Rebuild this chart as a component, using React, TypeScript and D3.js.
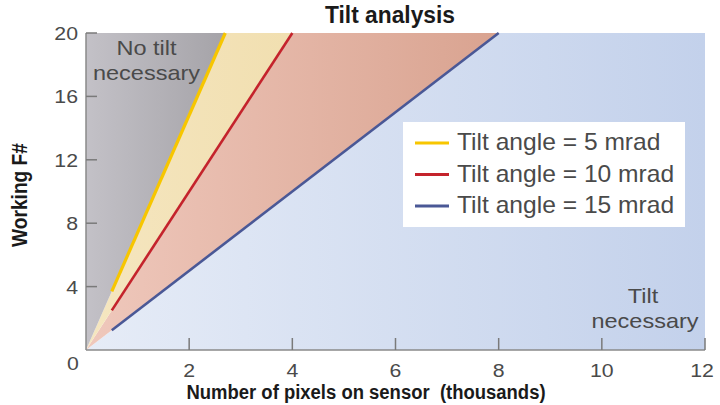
import React from "react";
import * as d3 from "d3";

const xTicks = [2, 4, 6, 8, 10, 12];
const yTicks = [4, 8, 12, 16, 20];
const seriesNames = ["Tilt angle = 5 mrad", "Tilt angle = 10 mrad", "Tilt angle = 15 mrad"];
const seriesColors = ["#f7c600", "#c4232c", "#4a5896"];
const lineStartX = [0.5, 0.5, 0.5];
const lineStartY = [3.7, 2.5, 1.25];
const lineEndX = [2.7, 4.0, 8.0];
const lineEndY = [20, 20, 20];
const xDomain = [0, 12];
const yDomain = [0, 20];

const W = 720;
const H = 405;

function SText(props: { x: number; y: number; size: number; sx?: number; anchor?: string; weight?: string; fill?: string; rotate?: number; children: any }) {
  const { x, y, size, sx = 1, anchor = "start", weight = "normal", fill = "#4a4a4a", rotate = 0, children } = props;
  return (
    <text
      transform={`translate(${x},${y}) rotate(${rotate}) scale(${sx},1)`}
      fontSize={size}
      fontFamily="'Liberation Sans', Arial, sans-serif"
      fontWeight={weight}
      textAnchor={anchor}
      fill={fill}
      style={{ whiteSpace: "pre" }}
    >
      {children}
    </text>
  );
}

export default function App() {
  const x = d3.scaleLinear().domain(xDomain).range([86, 705]);
  const y = d3.scaleLinear().domain(yDomain).range([350, 33]);
  const line = d3.line<[number, number]>().x((d) => x(d[0])).y((d) => y(d[1]));

  const tops = lineEndX.map((ex, i) => [ex, lineEndY[i]] as [number, number]);
  const o: [number, number] = [0, 0];
  const grayPoly: [number, number][] = [o, [0, 20], tops[0]];
  const yellowPoly: [number, number][] = [o, tops[0], tops[1]];
  const salmonPoly: [number, number][] = [o, tops[1], tops[2]];
  const bluePoly: [number, number][] = [o, tops[2], [12, 20], [12, 0]];
  const poly = (p: [number, number][]) => line(p) + "Z";

  return (
    <svg width={W} height={H} style={{ position: "absolute", left: 0, top: 0, background: "#fff" }}>
      <defs>
        <linearGradient id="gGray" gradientUnits="userSpaceOnUse" x1={x(0)} x2={x(2.7)} y1={0} y2={0}>
          <stop offset="0" stopColor="#c3c1c7" />
          <stop offset="1" stopColor="#a5a3a8" />
        </linearGradient>
        <linearGradient id="gYellow" gradientUnits="userSpaceOnUse" x1={x(0)} x2={x(4)} y1={0} y2={0}>
          <stop offset="0" stopColor="#f5e6c0" />
          <stop offset="1" stopColor="#f1dfb0" />
        </linearGradient>
        <linearGradient id="gSalmon" gradientUnits="userSpaceOnUse" x1={x(0)} x2={x(8)} y1={0} y2={0}>
          <stop offset="0" stopColor="#efc8bc" />
          <stop offset="1" stopColor="#d9a390" />
        </linearGradient>
        <linearGradient id="gBlue" gradientUnits="userSpaceOnUse" x1={x(0)} x2={x(12)} y1={0} y2={0}>
          <stop offset="0" stopColor="#e6ecf7" />
          <stop offset="1" stopColor="#c3d1eb" />
        </linearGradient>
      </defs>

      <path d={poly(bluePoly)} fill="url(#gBlue)" />
      <path d={poly(salmonPoly)} fill="url(#gSalmon)" />
      <path d={poly(yellowPoly)} fill="url(#gYellow)" />
      <path d={poly(grayPoly)} fill="url(#gGray)" />

      {seriesNames.map((n, i) => (
        <path
          key={n}
          d={line([[lineStartX[i], lineStartY[i]], [lineEndX[i], lineEndY[i]]]) || ""}
          stroke={seriesColors[i]}
          strokeWidth={i === 0 ? 3.2 : 2.6}
          fill="none"
        />
      ))}

      <line x1={x(0)} x2={x(0)} y1={y(20)} y2={y(0)} stroke="#8a8a8a" strokeWidth={1.5} />
      <line x1={x(0)} x2={x(12)} y1={y(0)} y2={y(0)} stroke="#8a8a8a" strokeWidth={1.5} />
      {xTicks.map((t) => (
        <g key={"xt" + t}>
          <line x1={x(t)} x2={x(t)} y1={y(0)} y2={y(0) - 12} stroke="#7a7a7a" strokeWidth={1.5} />
          <SText x={x(t) - (t === 12 ? 3 : 0)} y={377} size={19} sx={1.12} anchor="middle">{t}</SText>
        </g>
      ))}
      {yTicks.map((t) => (
        <g key={"yt" + t}>
          <line x1={x(0)} x2={x(0) + 11} y1={y(t)} y2={y(t)} stroke="#7a7a7a" strokeWidth={1.5} />
          <SText x={78} y={y(t) + 7} size={19} sx={1.12} anchor="end">{t}</SText>
        </g>
      ))}
      <SText x={73} y={370} size={19} sx={1.12} anchor="middle">0</SText>

      <rect x={403} y={122} width={282} height={105} fill="#ffffff" />
      {seriesNames.map((n, i) => (
        <g key={"lg" + n}>
          <line x1={415} x2={449} y1={143 + i * 31.5} y2={143 + i * 31.5} stroke={seriesColors[i]} strokeWidth={2.8} />
          <SText x={457} y={150 + i * 31.5} size={23} sx={1.07}>{n}</SText>
        </g>
      ))}

      <SText x={146.5} y={55} size={21} sx={1.12} anchor="middle">No tilt</SText>
      <SText x={146.5} y={80} size={21} sx={1.12} anchor="middle">necessary</SText>
      <SText x={643} y={303} size={21} sx={1.12} anchor="middle">Tilt</SText>
      <SText x={645} y={328} size={21} sx={1.12} anchor="middle">necessary</SText>

      <SText x={390} y={23} size={24} sx={0.95} anchor="middle" weight="bold" fill="#1a1a1a">Tilt analysis</SText>
      <SText x={27} y={195} size={22} sx={0.87} anchor="middle" weight="bold" fill="#1a1a1a" rotate={-90}>Working F#</SText>
      <SText x={366} y={399} size={21} sx={0.88} anchor="middle" weight="bold" fill="#1a1a1a">{"Number of pixels on sensor\u00a0 (thousands)"}</SText>
    </svg>
  );
}
